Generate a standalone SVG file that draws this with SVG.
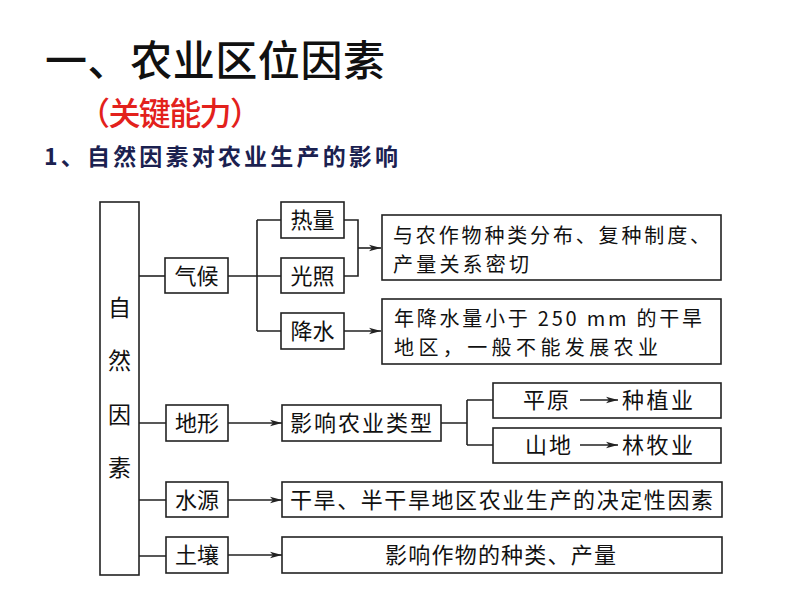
<svg xmlns="http://www.w3.org/2000/svg" width="794" height="596" viewBox="0 0 794 596">
<style>
.bx{fill:#fff;stroke:#222;stroke-width:1.6}
.ln{fill:none;stroke:#222;stroke-width:1.6}
.t{font-family:"Noto Sans CJK SC","Noto Sans",sans-serif;font-size:22px;fill:#111}
.t2{font-family:"Noto Sans CJK SC","Noto Sans",sans-serif;font-size:20px;fill:#111}
.m{text-anchor:middle}
</style>
<defs>
<marker id="ah" viewBox="0 0 12 8" refX="12" refY="4" markerWidth="12" markerHeight="8" markerUnits="userSpaceOnUse" orient="auto">
<path d="M0,0.8 L12,4 L0,7.2 L3,4 Z" fill="#222"/>
</marker>
</defs>
<rect width="794" height="596" fill="#fff"/>
<g id="title">
<text x="45" y="76" style="font-family:'Noto Sans CJK SC',sans-serif;font-size:42px;font-weight:500;fill:#111" textLength="340" lengthAdjust="spacing">一、农业区位因素</text>
<text x="78" y="125" style="font-family:'Noto Sans CJK SC',sans-serif;font-size:32px;font-weight:500;fill:#e3211c" textLength="184" lengthAdjust="spacing">（关键能力）</text>
<text x="44" y="165" style="font-family:'Noto Sans CJK SC',sans-serif;font-size:23px;font-weight:700;fill:#1b2150" textLength="354" lengthAdjust="spacing">1、自然因素对农业生产的影响</text>
</g>
<g id="connectors">
<path class="ln" d="M139,276 H165"/>
<path class="ln" d="M228,276 H281 M257,220 V331 M257,220 H281 M257,331 H281"/>
<path class="ln" d="M344,220 H358 V276 H344"/>
<path class="ln" d="M358,248 H381" marker-end="url(#ah)"/>
<path class="ln" d="M344,331 H381" marker-end="url(#ah)"/>
<path class="ln" d="M139,423 H166 M139,500 H166 M139,556 H166"/>
<path class="ln" d="M228,423 H282" marker-end="url(#ah)"/>
<path class="ln" d="M228,500 H282" marker-end="url(#ah)"/>
<path class="ln" d="M228,555 H282" marker-end="url(#ah)"/>
<path class="ln" d="M441,423 H467 M467,400 V445 M467,400 H493 M467,445 H493"/>
</g>
<g id="n-ziran">
<rect class="bx" x="100" y="202" width="39" height="373"/>
<text class="t m" x="119.5" y="316" style="font-size:23px">自</text>
<text class="t m" x="119.5" y="369" style="font-size:23px">然</text>
<text class="t m" x="119.5" y="423" style="font-size:23px">因</text>
<text class="t m" x="119.5" y="476" style="font-size:23px">素</text>
</g>
<g id="n-qihou"><rect class="bx" x="165" y="258" width="63" height="35"/><text class="t m" x="196.5" y="284">气候</text></g>
<g id="n-reliang"><rect class="bx" x="281" y="202" width="63" height="36"/><text class="t m" x="312.5" y="228">热量</text></g>
<g id="n-guangzhao"><rect class="bx" x="281" y="258" width="63" height="35"/><text class="t m" x="312.5" y="284">光照</text></g>
<g id="n-jiangshui"><rect class="bx" x="281" y="313" width="63" height="36"/><text class="t m" x="312.5" y="339">降水</text></g>
<g id="n-guanxi">
<rect class="bx" x="382" y="215" width="339" height="65"/>
<text class="t2" x="393" y="243" textLength="317" lengthAdjust="spacing">与农作物种类分布、复种制度、</text>
<text class="t2" x="393" y="272" textLength="136" lengthAdjust="spacing">产量关系密切</text>
</g>
<g id="n-ganhan">
<rect class="bx" x="382" y="299" width="339" height="65"/>
<text class="t2" x="394" y="326" textLength="308" lengthAdjust="spacing">年降水量小于 250 mm 的干旱</text>
<text class="t2" x="394" y="355" textLength="264" lengthAdjust="spacing">地区，一般不能发展农业</text>
</g>
<g id="n-dixing"><rect class="bx" x="166" y="405" width="62" height="36"/><text class="t m" x="197" y="431">地形</text></g>
<g id="n-leixing"><rect class="bx" x="282" y="405" width="159" height="36"/><text class="t" x="290" y="431" textLength="142" lengthAdjust="spacing">影响农业类型</text></g>
<g id="n-pingyuan">
<rect class="bx" x="493" y="383" width="228" height="35"/>
<text class="t" x="523" y="408" textLength="46" lengthAdjust="spacing">平原</text>
<path class="ln" d="M580,400 H618" marker-end="url(#ah)"/>
<text class="t" x="622" y="408" textLength="71" lengthAdjust="spacing">种植业</text>
</g>
<g id="n-shandi">
<rect class="bx" x="493" y="428" width="228" height="35"/>
<text class="t" x="525" y="453" textLength="46" lengthAdjust="spacing">山地</text>
<path class="ln" d="M580,445 H618" marker-end="url(#ah)"/>
<text class="t" x="622" y="453" textLength="71" lengthAdjust="spacing">林牧业</text>
</g>
<g id="n-shuiyuan"><rect class="bx" x="166" y="482" width="62" height="35"/><text class="t m" x="197" y="508">水源</text></g>
<g id="n-juedingxing"><rect class="bx" x="282" y="482" width="440" height="35"/><text class="t" x="290" y="508" textLength="423" lengthAdjust="spacing">干旱、半干旱地区农业生产的决定性因素</text></g>
<g id="n-turang"><rect class="bx" x="166" y="537" width="62" height="36"/><text class="t m" x="197" y="563">土壤</text></g>
<g id="n-zhonglei"><rect class="bx" x="282" y="537" width="440" height="36"/><text class="t" x="385" y="563" textLength="231" lengthAdjust="spacing">影响作物的种类、产量</text></g>
</svg>
